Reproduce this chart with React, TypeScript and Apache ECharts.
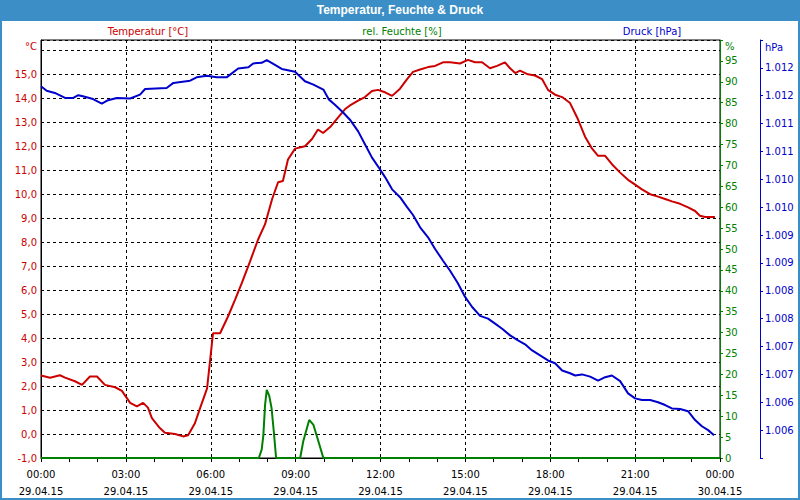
import React, { useEffect, useRef } from "react";
import * as echarts from "echarts";

// ---- data (hours since 29.04.15 00:00) ----
const tempHours = [0, 0.32, 0.67, 0.85, 1.2, 1.45, 1.73, 1.98, 2.26, 2.62, 2.86, 3.15, 3.39, 3.61, 3.78, 3.92, 4.2, 4.38, 4.74, 5.02, 5.2, 5.44, 5.62, 5.87, 6.08, 6.33, 6.61, 6.86, 7.1, 7.39, 7.67, 7.92, 8.17, 8.38, 8.55, 8.73, 8.98, 9.33, 9.58, 9.79, 9.97, 10.22, 10.57, 10.75, 10.92, 11.21, 11.45, 11.7, 11.91, 12.16, 12.41, 12.69, 12.94, 13.15, 13.4, 13.68, 13.93, 14.21, 14.46, 14.81, 15.09, 15.34, 15.59, 15.87, 16.12, 16.4, 16.58, 16.76, 16.93, 17.21, 17.46, 17.71, 17.92, 18.17, 18.42, 18.7, 18.95, 19.23, 19.48, 19.69, 19.94, 20.18, 20.47, 20.75, 21.0, 21.24, 21.53, 21.81, 22.06, 22.3, 22.59, 22.87, 23.12, 23.29, 23.47, 23.82];
const tempValues = [2.44, 2.35, 2.45, 2.35, 2.2, 2.05, 2.4, 2.4, 2.05, 1.95, 1.8, 1.3, 1.15, 1.3, 1.1, 0.66, 0.25, 0.05, 0.0, -0.1, -0.05, 0.45, 1.07, 1.9, 4.2, 4.2, 4.9, 5.6, 6.3, 7.2, 8.1, 8.75, 9.8, 10.5, 10.55, 11.45, 11.9, 12.0, 12.3, 12.7, 12.55, 12.8, 13.3, 13.55, 13.7, 13.9, 14.05, 14.3, 14.35, 14.25, 14.1, 14.4, 14.8, 15.1, 15.2, 15.3, 15.35, 15.5, 15.5, 15.45, 15.6, 15.5, 15.5, 15.25, 15.35, 15.5, 15.25, 15.05, 15.15, 15.0, 14.95, 14.8, 14.35, 14.15, 14.05, 13.8, 13.2, 12.4, 11.9, 11.6, 11.6, 11.25, 10.9, 10.6, 10.4, 10.2, 10.0, 9.9, 9.8, 9.7, 9.6, 9.45, 9.3, 9.1, 9.05, 9.05];

const pressHours = [0, 0.2, 0.49, 0.85, 1.14, 1.32, 1.48, 1.84, 2.15, 2.37, 2.68, 3.15, 3.5, 3.68, 4.44, 4.68, 5.27, 5.5, 5.86, 6.21, 6.56, 6.97, 7.33, 7.5, 7.8, 7.98, 8.21, 8.51, 8.98, 9.33, 9.63, 9.98, 10.18, 10.39, 10.68, 10.92, 11.21, 11.45, 11.7, 11.98, 12.16, 12.41, 12.69, 12.94, 13.15, 13.4, 13.68, 13.93, 14.21, 14.46, 14.74, 14.99, 15.24, 15.52, 15.8, 16.05, 16.3, 16.58, 16.86, 17.11, 17.36, 17.64, 17.92, 18.17, 18.42, 18.7, 18.88, 19.12, 19.41, 19.69, 19.94, 20.18, 20.47, 20.75, 21.0, 21.24, 21.53, 21.81, 22.06, 22.3, 22.59, 22.87, 23.12, 23.36, 23.58, 23.79];
const pressValues = [1011.67, 1011.59, 1011.55, 1011.46, 1011.46, 1011.51, 1011.49, 1011.44, 1011.36, 1011.42, 1011.46, 1011.45, 1011.52, 1011.62, 1011.64, 1011.73, 1011.77, 1011.83, 1011.86, 1011.83, 1011.83, 1011.99, 1012.01, 1012.08, 1012.09, 1012.14, 1012.07, 1011.98, 1011.93, 1011.76, 1011.7, 1011.61, 1011.43, 1011.34, 1011.2, 1011.07, 1010.86, 1010.63, 1010.39, 1010.18, 1010.04, 1009.82, 1009.68, 1009.5, 1009.36, 1009.14, 1008.96, 1008.75, 1008.54, 1008.36, 1008.13, 1007.89, 1007.71, 1007.55, 1007.5, 1007.41, 1007.32, 1007.2, 1007.11, 1007.04, 1006.93, 1006.84, 1006.75, 1006.7, 1006.57, 1006.52, 1006.48, 1006.5, 1006.46, 1006.39, 1006.45, 1006.48, 1006.38, 1006.16, 1006.07, 1006.04, 1006.04, 1006.0, 1005.95, 1005.89, 1005.88, 1005.84, 1005.68, 1005.57, 1005.5, 1005.41];

const humHours = [0, 7.7, 7.8, 7.86, 7.92, 7.98, 8.07, 8.15, 8.24, 8.31, 9.16, 9.27, 9.48, 9.63, 9.77, 9.98, 24];
const humValues = [0, 0, 2.0, 5.5, 12.7, 16.3, 14.8, 11.9, 5.5, 0, 0, 4.0, 9.1, 7.9, 4.8, 0, 0];

const dayLabels = ["29.04.15", "30.04.15"];
const seriesNames = ["Temperatur [°C]", "rel. Feuchte [%]", "Druck [hPa]"];
const unitLabels = ["°C", "%", "hPa"];
const chartTitle = "Temperatur, Feuchte & Druck";

const RED = "#cc0000";
const GREEN = "#008000";
const BLUE = "#0000cc";
const FRAME = "#3c8fc6";
const FONT = "DejaVu Sans";

const pair = (xs: number[], ys: number[]) => xs.map((x, i) => [x, ys[i]]);

export default function App() {
  const ref = useRef<HTMLDivElement>(null);
  useEffect(() => {
    if (!ref.current) return;
    const chart = echarts.init(ref.current, null, { renderer: "svg" });
    const txt = (s: string, x: number, y: number, color: string, align = "center", extra: any = {}) => ({
      type: "text",
      x,
      y,
      z: 10,
      style: { text: s, fill: color, font: `10px "${FONT}"`, align, verticalAlign: "middle", ...extra },
    });
    chart.setOption({
      animation: false,
      backgroundColor: FRAME,
      textStyle: { fontFamily: FONT },
      graphic: [
        { type: "rect", z: -100, shape: { x: 2, y: 21, width: 796, height: 477 }, style: { fill: "#fff" } },
        {
          type: "text",
          x: 400,
          y: 10,
          z: 10,
          style: { text: chartTitle, fill: "#fff", font: `bold 12px "Liberation Sans"`, align: "center", verticalAlign: "middle" },
        },
        txt(seriesNames[0], 148, 31, RED),
        txt(seriesNames[1], 402, 31, GREEN),
        txt(seriesNames[2], 652, 31, BLUE),
        txt(unitLabels[0], 37, 46, RED, "right"),
        txt(unitLabels[1], 725, 46, GREEN, "left"),
        txt(unitLabels[2], 765, 47, BLUE, "left"),
      ],
      grid: { left: 41, right: 80, top: 40, bottom: 40, show: true, borderColor: "#000", borderWidth: 1, backgroundColor: "transparent" },
      xAxis: {
        type: "value",
        min: 0,
        max: 24,
        interval: 3,
        axisLine: { show: true, onZero: false, lineStyle: { color: "#000", width: 1 } },
        axisTick: { show: true, length: 4, lineStyle: { color: "#000" } },
        minorTick: { show: true, splitNumber: 3, length: 4, lineStyle: { color: "#000" } },
        splitLine: { show: true, lineStyle: { color: "#000", type: [3, 3], width: 1 } },
        axisLabel: {
          color: "#000",
          fontFamily: FONT,
          fontSize: 10,
          margin: 8,
          lineHeight: 17,
          formatter: (v: number) => {
            const hh = v % 24;
            const d = v >= 24 ? dayLabels[1] : dayLabels[0];
            return `${String(hh).padStart(2, "0")}:00\n${d}`;
          },
        },
      },
      yAxis: [
        {
          type: "value",
          position: "left",
          min: -1,
          max: 16.43,
          interval: 1,
          axisLine: { show: true, onZero: false, lineStyle: { color: "#000" } },
          axisTick: { show: false },
          splitLine: { show: true, lineStyle: { color: "#000", type: [3, 3], width: 1 } },
          axisLabel: {
            color: RED,
            fontFamily: FONT,
            fontSize: 10,
            margin: 4,
            formatter: (v: number) => (Math.abs(v - Math.round(v)) > 0.01 || v > 15.5 ? "" : v.toFixed(1).replace(".", ",")),
          },
        },
        {
          type: "value",
          position: "right",
          min: 0,
          max: 100,
          interval: 5,
          axisLine: { show: true, onZero: false, lineStyle: { color: GREEN } },
          axisTick: { show: true, length: 3, lineStyle: { color: GREEN } },
          splitLine: { show: false },
          axisLabel: {
            color: GREEN,
            fontFamily: FONT,
            fontSize: 10,
            margin: 5,
            formatter: (v: number) => (v >= 100 ? "" : String(v)),
          },
        },
        {
          type: "value",
          position: "right",
          offset: 40,
          min: 1005,
          max: 1012.5,
          interval: 0.5,
          axisLine: { show: true, onZero: false, lineStyle: { color: BLUE } },
          axisTick: { show: true, length: 3, lineStyle: { color: BLUE } },
          splitLine: { show: false },
          axisLabel: {
            color: BLUE,
            fontFamily: FONT,
            fontSize: 10,
            margin: 5,
            formatter: (v: number) => (v <= 1005 || v >= 1012.5 ? "" : (Math.round(v) / 1000).toFixed(3)),
          },
        },
      ],
      series: [
        {
          name: seriesNames[0],
          type: "line",
          yAxisIndex: 0,
          data: pair(tempHours, tempValues),
          showSymbol: false,
          lineStyle: { color: RED, width: 2 },
          itemStyle: { color: RED },
          z: 3,
        },
        {
          name: seriesNames[1],
          type: "line",
          yAxisIndex: 1,
          data: pair(humHours, humValues),
          showSymbol: false,
          clip: false,
          lineStyle: { color: GREEN, width: 2 },
          itemStyle: { color: GREEN },
          z: 4,
        },
        {
          name: seriesNames[2],
          type: "line",
          yAxisIndex: 2,
          data: pair(pressHours, pressValues),
          showSymbol: false,
          lineStyle: { color: BLUE, width: 2 },
          itemStyle: { color: BLUE },
          z: 3,
        },
      ],
    });
    return () => chart.dispose();
  }, []);
  return <div ref={ref} style={{ position: "fixed", left: 0, top: 0, width: 800, height: 500 }} />;
}
